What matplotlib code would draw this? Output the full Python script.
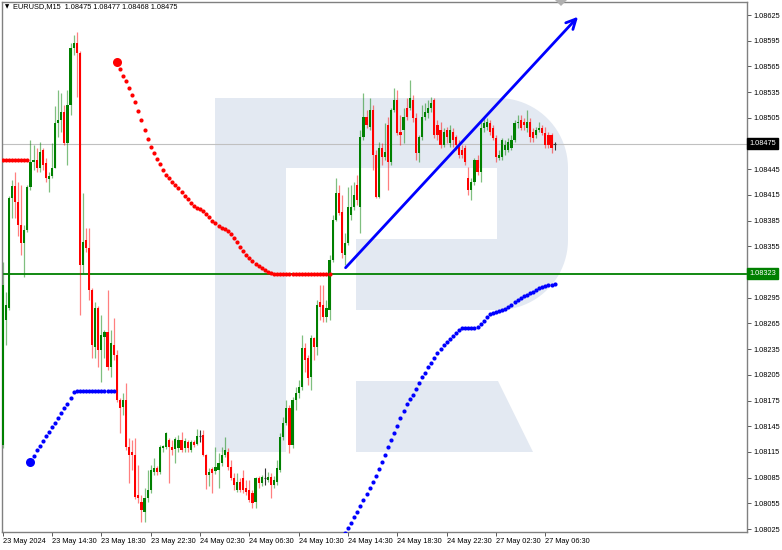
import numpy as np
import matplotlib
matplotlib.use('Agg')
import matplotlib.pyplot as plt
import matplotlib.transforms as mtransforms
from matplotlib.patches import Polygon

# EURUSD M15, 23 May 10:30 .. 27 May 07:15
opens = [1.08123, 1.08269, 1.08283, 1.08411, 1.08425, 1.08407, 1.08380, 1.08359, 1.08374, 1.08424,
         1.08453, 1.08456, 1.08446, 1.08467, 1.08452, 1.08434, 1.08437, 1.08446, 1.08499, 1.08502,
         1.08512, 1.08476, 1.08520, 1.08586, 1.08592, 1.08581, 1.08333, 1.08362, 1.08353, 1.08304,
         1.08237, 1.08283, 1.08234, 1.08249, 1.08255, 1.08214, 1.08240, 1.08228, 1.08176, 1.08167,
         1.08176, 1.08121, 1.08115, 1.08111, 1.08065, 1.08057, 1.08045, 1.08061, 1.08071, 1.08092,
         1.08096, 1.08092, 1.08120, 1.08121, 1.08129, 1.08121, 1.08118, 1.08120, 1.08129, 1.08120,
         1.08127, 1.08117, 1.08127, 1.08124, 1.08134, 1.08135, 1.08111, 1.08088, 1.08095, 1.08093,
         1.08094, 1.08102, 1.08111, 1.08115, 1.08097, 1.08085, 1.08071, 1.08080, 1.08085, 1.08073,
         1.08071, 1.08067, 1.08057, 1.08085, 1.08079, 1.08085, 1.08082, 1.08086, 1.08076, 1.08080,
         1.08094, 1.08132, 1.08149, 1.08166, 1.08123, 1.08176, 1.08184, 1.08191, 1.08236, 1.08225,
         1.08202, 1.08248, 1.08237, 1.08290, 1.08286, 1.08272, 1.08281, 1.08339, 1.08386, 1.08417,
         1.08395, 1.08345, 1.08359, 1.08392, 1.08401, 1.08427, 1.08401, 1.08483, 1.08506, 1.08494,
         1.08514, 1.08462, 1.08412, 1.08470, 1.08459, 1.08497, 1.08453, 1.08514, 1.08526, 1.08488,
         1.08491, 1.08517, 1.08517, 1.08526, 1.08505, 1.08464, 1.08483, 1.08506, 1.08511, 1.08516,
         1.08526, 1.08497, 1.08491, 1.08473, 1.08491, 1.08476, 1.08488, 1.08483, 1.08473, 1.08467,
         1.08470, 1.08435, 1.08421, 1.08430, 1.08456, 1.08442, 1.08493, 1.08494, 1.08499, 1.08493,
         1.08481, 1.08458, 1.08459, 1.08467, 1.08467, 1.08470, 1.08479, 1.08499, 1.08502, 1.08500,
         1.08493, 1.08500, 1.08488, 1.08485, 1.08491, 1.08493, 1.08487, 1.08485, 1.08485, 1.08475]
highs = [1.08337, 1.08302, 1.08414, 1.08432, 1.08442, 1.08430, 1.08427, 1.08380, 1.08427, 1.08479,
         1.08473, 1.08470, 1.08477, 1.08470, 1.08458, 1.08442, 1.08476, 1.08519, 1.08537, 1.08534,
         1.08520, 1.08537, 1.08592, 1.08602, 1.08605, 1.08583, 1.08417, 1.08376, 1.08376, 1.08306,
         1.08290, 1.08285, 1.08275, 1.08257, 1.08304, 1.08257, 1.08271, 1.08234, 1.08178, 1.08184,
         1.08195, 1.08131, 1.08129, 1.08131, 1.08100, 1.08065, 1.08073, 1.08094, 1.08100, 1.08108,
         1.08099, 1.08123, 1.08123, 1.08138, 1.08131, 1.08129, 1.08132, 1.08135, 1.08138, 1.08131,
         1.08129, 1.08129, 1.08129, 1.08142, 1.08141, 1.08141, 1.08113, 1.08096, 1.08097, 1.08121,
         1.08114, 1.08121, 1.08132, 1.08120, 1.08106, 1.08090, 1.08090, 1.08085, 1.08094, 1.08082,
         1.08082, 1.08071, 1.08086, 1.08087, 1.08088, 1.08096, 1.08092, 1.08090, 1.08087, 1.08106,
         1.08137, 1.08156, 1.08176, 1.08170, 1.08179, 1.08191, 1.08199, 1.08251, 1.08242, 1.08228,
         1.08251, 1.08249, 1.08292, 1.08310, 1.08310, 1.08292, 1.08345, 1.08392, 1.08435, 1.08427,
         1.08415, 1.08370, 1.08424, 1.08427, 1.08430, 1.08438, 1.08491, 1.08534, 1.08514, 1.08528,
         1.08520, 1.08467, 1.08477, 1.08476, 1.08499, 1.08506, 1.08516, 1.08540, 1.08537, 1.08508,
         1.08516, 1.08528, 1.08549, 1.08532, 1.08511, 1.08485, 1.08520, 1.08522, 1.08526, 1.08529,
         1.08528, 1.08502, 1.08500, 1.08493, 1.08494, 1.08497, 1.08493, 1.08485, 1.08479, 1.08473,
         1.08473, 1.08448, 1.08435, 1.08458, 1.08462, 1.08500, 1.08505, 1.08505, 1.08502, 1.08497,
         1.08485, 1.08467, 1.08481, 1.08479, 1.08481, 1.08485, 1.08502, 1.08508, 1.08508, 1.08505,
         1.08514, 1.08505, 1.08493, 1.08494, 1.08500, 1.08497, 1.08494, 1.08488, 1.08487, 1.08477]
lows = [1.08120, 1.08240, 1.08281, 1.08388, 1.08388, 1.08367, 1.08345, 1.08319, 1.08372, 1.08421,
        1.08444, 1.08442, 1.08442, 1.08444, 1.08430, 1.08418, 1.08435, 1.08446, 1.08483, 1.08488,
        1.08473, 1.08450, 1.08508, 1.08578, 1.08529, 1.08275, 1.08324, 1.08348, 1.08292, 1.08225,
        1.08225, 1.08214, 1.08197, 1.08225, 1.08211, 1.08202, 1.08222, 1.08173, 1.08137, 1.08158,
        1.08117, 1.08079, 1.08094, 1.08060, 1.08055, 1.08033, 1.08033, 1.08057, 1.08067, 1.08088,
        1.08088, 1.08089, 1.08115, 1.08118, 1.08079, 1.08111, 1.08102, 1.08115, 1.08115, 1.08115,
        1.08115, 1.08115, 1.08121, 1.08123, 1.08127, 1.08110, 1.08072, 1.08075, 1.08067, 1.08089,
        1.08073, 1.08099, 1.08109, 1.08094, 1.08082, 1.08071, 1.08068, 1.08068, 1.08067, 1.08065,
        1.08057, 1.08050, 1.08050, 1.08073, 1.08075, 1.08076, 1.08080, 1.08061, 1.08073, 1.08076,
        1.08092, 1.08129, 1.08146, 1.08114, 1.08120, 1.08164, 1.08178, 1.08187, 1.08208, 1.08193,
        1.08187, 1.08222, 1.08228, 1.08269, 1.08267, 1.08267, 1.08269, 1.08337, 1.08384, 1.08392,
        1.08341, 1.08333, 1.08357, 1.08386, 1.08397, 1.08403, 1.08370, 1.08479, 1.08493, 1.08491,
        1.08444, 1.08411, 1.08411, 1.08450, 1.08456, 1.08421, 1.08450, 1.08512, 1.08485, 1.08473,
        1.08476, 1.08502, 1.08514, 1.08500, 1.08456, 1.08453, 1.08479, 1.08502, 1.08505, 1.08512,
        1.08482, 1.08479, 1.08470, 1.08471, 1.08476, 1.08471, 1.08471, 1.08467, 1.08458, 1.08458,
        1.08450, 1.08415, 1.08409, 1.08427, 1.08438, 1.08430, 1.08488, 1.08491, 1.08485, 1.08479,
        1.08453, 1.08456, 1.08456, 1.08462, 1.08465, 1.08467, 1.08477, 1.08493, 1.08491, 1.08491,
        1.08488, 1.08477, 1.08477, 1.08481, 1.08488, 1.08485, 1.08470, 1.08470, 1.08464, 1.08468]
closes = [1.08310, 1.08286, 1.08411, 1.08425, 1.08407, 1.08380, 1.08359, 1.08374, 1.08424, 1.08453,
          1.08456, 1.08446, 1.08465, 1.08450, 1.08435, 1.08437, 1.08446, 1.08499, 1.08502, 1.08512,
          1.08476, 1.08520, 1.08586, 1.08592, 1.08581, 1.08333, 1.08360, 1.08353, 1.08304, 1.08240,
          1.08283, 1.08234, 1.08251, 1.08255, 1.08214, 1.08242, 1.08228, 1.08176, 1.08166, 1.08176,
          1.08121, 1.08111, 1.08111, 1.08062, 1.08061, 1.08047, 1.08061, 1.08071, 1.08094, 1.08096,
          1.08092, 1.08121, 1.08122, 1.08137, 1.08121, 1.08117, 1.08130, 1.08129, 1.08117, 1.08128,
          1.08120, 1.08127, 1.08123, 1.08134, 1.08134, 1.08111, 1.08088, 1.08092, 1.08090, 1.08097,
          1.08102, 1.08111, 1.08117, 1.08097, 1.08085, 1.08076, 1.08080, 1.08071, 1.08071, 1.08068,
          1.08059, 1.08055, 1.08085, 1.08079, 1.08086, 1.08085, 1.08086, 1.08076, 1.08082, 1.08096,
          1.08132, 1.08149, 1.08166, 1.08123, 1.08176, 1.08184, 1.08191, 1.08236, 1.08222, 1.08201,
          1.08248, 1.08237, 1.08286, 1.08284, 1.08272, 1.08283, 1.08339, 1.08386, 1.08417, 1.08394,
          1.08347, 1.08359, 1.08401, 1.08401, 1.08415, 1.08409, 1.08483, 1.08506, 1.08497, 1.08514,
          1.08462, 1.08412, 1.08470, 1.08459, 1.08465, 1.08453, 1.08514, 1.08526, 1.08487, 1.08485,
          1.08506, 1.08506, 1.08528, 1.08505, 1.08464, 1.08483, 1.08506, 1.08512, 1.08516, 1.08522,
          1.08485, 1.08485, 1.08473, 1.08488, 1.08483, 1.08491, 1.08479, 1.08473, 1.08462, 1.08462,
          1.08453, 1.08421, 1.08430, 1.08456, 1.08442, 1.08493, 1.08499, 1.08500, 1.08488, 1.08481,
          1.08459, 1.08462, 1.08479, 1.08473, 1.08477, 1.08479, 1.08499, 1.08500, 1.08493, 1.08497,
          1.08500, 1.08483, 1.08481, 1.08491, 1.08493, 1.08487, 1.08473, 1.08473, 1.08470, 1.08475]

# dotted indicator, four runs (first bar index + values)
red_start_1 = 0
red_dots_1 = [1.08456] * 9
blue_start_1 = 9
blue_dots_1 = [1.08103, 1.08110, 1.08117, 1.08122, 1.08128, 1.08133, 1.08138, 1.08144, 1.08149, 1.08155,
               1.08160, 1.08166, 1.08171, 1.08178, 1.08185] + [1.08186] * 13
red_start_2 = 37
red_dots_2 = [1.08570, 1.08562, 1.08554, 1.08548, 1.08540, 1.08532, 1.08523, 1.08513, 1.08502, 1.08491,
              1.08480, 1.08471, 1.08464, 1.08457, 1.08451, 1.08444, 1.08438, 1.08435, 1.08430, 1.08427,
              1.08423, 1.08418, 1.08414, 1.08410, 1.08406, 1.08402, 1.08400, 1.08399, 1.08396, 1.08393,
              1.08389, 1.08385, 1.08382, 1.08379, 1.08376, 1.08375, 1.08373, 1.08369, 1.08365, 1.08360,
              1.08354, 1.08350, 1.08345, 1.08341, 1.08338, 1.08334, 1.08332, 1.08330, 1.08327, 1.08325,
              1.08324] + [1.08323] * 19
blue_start_2 = 111
blue_dots_2 = [1.08020, 1.08026, 1.08032, 1.08039, 1.08045, 1.08052, 1.08059, 1.08066, 1.08073, 1.08080,
               1.08087, 1.08095, 1.08103, 1.08111, 1.08121, 1.08129, 1.08137, 1.08145, 1.08155, 1.08163,
               1.08171, 1.08177, 1.08181, 1.08188, 1.08195, 1.08202, 1.08207, 1.08214, 1.08219, 1.08225,
               1.08230, 1.08235, 1.08240, 1.08243, 1.08247, 1.08250, 1.08254, 1.08257, 1.08260, 1.08260,
               1.08260, 1.08260, 1.08260, 1.08261, 1.08264, 1.08268, 1.08272, 1.08276, 1.08277, 1.08278,
               1.08279, 1.08281, 1.08282, 1.08284, 1.08286, 1.08290, 1.08292, 1.08295, 1.08297, 1.08298,
               1.08300, 1.08302, 1.08304, 1.08306, 1.08307, 1.08309, 1.08310, 1.08310, 1.08311]

bid_price = 1.08475
level_price = 1.08323
trend_start = (111.2, 1.08330)
trend_end = (186.6, 1.08623)

price_ticks = [1.08025, 1.08055, 1.08085, 1.08115, 1.08145, 1.08175, 1.08205, 1.08235, 1.08265, 1.08295,
               1.08325, 1.08355, 1.08385, 1.08415, 1.08445, 1.08475, 1.08505, 1.08535, 1.08565, 1.08595,
               1.08625]
time_ticks = [0, 16, 32, 48, 64, 80, 96, 112, 128, 144, 160, 176]
time_labels = ['23 May 2024', '23 May 14:30', '23 May 18:30', '23 May 22:30', '24 May 02:30', '24 May 06:30',
               '24 May 10:30', '24 May 14:30', '24 May 18:30', '24 May 22:30', '27 May 02:30', '27 May 06:30']

GREEN = '#008000'
RED = '#ff0000'
BLUE = '#0000ff'
FONT = 'Liberation Sans'
FS = 5.3

W, H = 782, 550
fig = plt.figure(figsize=(W / 100, H / 100), dpi=100)
ax = fig.add_axes([2 / W, 18 / H, 745 / W, 530 / H])
ax.set_xlim(-0.23, 241.4)
ax.set_ylim(1.080215, 1.086402)

# watermark logo, drawn in pixel coords (y from top)
px = mtransforms.Affine2D().scale(1, -1).translate(0, H)
def arc(cx, cy, r, a0, a1):
    t = np.radians(np.linspace(a0, a1, 24))
    return list(zip(cx + r * np.cos(t), cy - r * np.sin(t)))
bowl = ([(215, 98)] + arc(498, 168, 70, 90, 0) + arc(498, 240, 70, 0, -90) +
        [(356, 310), (356, 239), (497, 239), (497, 168), (286, 168), (286, 452), (215, 452)])
leg = [(356, 381), (498, 381), (533, 452), (356, 452)]
for pts in (bowl, leg):
    ax.add_patch(Polygon(pts, closed=True, fc='#e3e9f2', ec='none', transform=px, zorder=0))

# price lines
ax.axhline(bid_price, color='#c0c0c0', lw=0.8, zorder=1)
ax.axhline(level_price, color=GREEN, lw=1.3, zorder=1)

# candles
o, h, l, c = (np.array(v) for v in (opens, highs, lows, closes))
x = np.arange(len(o))
up = c > o
dn = c < o
fl = c == o
ax.vlines(x[up], l[up], h[up], color=GREEN, lw=0.9, alpha=0.5, zorder=2)
ax.vlines(x[dn], l[dn], h[dn], color=RED, lw=0.9, alpha=0.5, zorder=2)
ax.bar(x[up], c[up] - o[up], bottom=o[up], width=0.7, color=GREEN, lw=0, zorder=3)
ax.bar(x[dn], o[dn] - c[dn], bottom=c[dn], width=0.7, color=RED, lw=0, zorder=3)
ax.vlines(x[fl], l[fl], h[fl], color='#333333', lw=0.8, zorder=3)
ax.hlines(o[fl], x[fl] - 0.4, x[fl] + 0.4, color='#333333', lw=0.8, zorder=3)

# indicator dots
for start, vals, col in ((red_start_1, red_dots_1, RED), (blue_start_1, blue_dots_1, BLUE),
                         (red_start_2, red_dots_2, RED), (blue_start_2, blue_dots_2, BLUE)):
    xs = np.arange(start, start + len(vals))
    ax.plot(xs, vals, 'o', color=col, ms=3.0, mew=0, zorder=4)
ax.plot(blue_start_1, blue_dots_1[0], 'o', color=BLUE, ms=6.5, mew=0, zorder=4)
ax.plot(red_start_2, red_dots_2[0], 'o', color=RED, ms=6.5, mew=0, zorder=4)

# trend arrow
ax.annotate('', xy=trend_end, xytext=trend_start,
            arrowprops=dict(arrowstyle='->,head_length=0.7,head_width=0.35', color=BLUE, lw=2,
                            shrinkA=0, shrinkB=0), zorder=5)

# chart shift marker
ax.add_patch(Polygon([(555, 0), (567, 0), (561, 6)], closed=True, fc='#b0b0b0', ec='none',
                     transform=px, clip_on=False, zorder=6))

# axes styling
for s in ax.spines.values():
    s.set_color('#808080')
    s.set_linewidth(1)
ax.yaxis.tick_right()
ax.set_yticks(price_ticks)
ax.set_yticklabels(['' if abs(p - bid_price) < 1e-6 or abs(p - 1.08325) < 1e-6 else f'{p:.5f}'
                    for p in price_ticks])
ax.set_xticks(time_ticks)
ax.set_xticklabels(time_labels, ha='left')
ax.tick_params(axis='both', length=3, width=0.6, color='#404040', labelsize=FS, pad=1.5)
for lab in ax.get_xticklabels() + ax.get_yticklabels():
    lab.set_fontfamily(FONT)

yx = mtransforms.blended_transform_factory(ax.transAxes, ax.transData)
ax.text(1.003, bid_price, '1.08475', transform=yx, ha='left', va='center', color='white',
        fontsize=FS, family=FONT, bbox=dict(boxstyle='square,pad=0.25', fc='black', ec='black'))
ax.text(1.003, level_price, '1.08323', transform=yx, ha='left', va='center', color='white',
        fontsize=FS, family=FONT, bbox=dict(boxstyle='square,pad=0.25', fc=GREEN, ec=GREEN))

fig.text(5 / W, 1 - 7 / H, '\u25bc', fontsize=4, family='DejaVu Sans', va='center')
fig.text(13 / W, 1 - 7 / H, 'EURUSD,M15  1.08475 1.08477 1.08468 1.08475', fontsize=FS,
         family=FONT, va='center')

fig.savefig('out.png', dpi=100, facecolor='white')
